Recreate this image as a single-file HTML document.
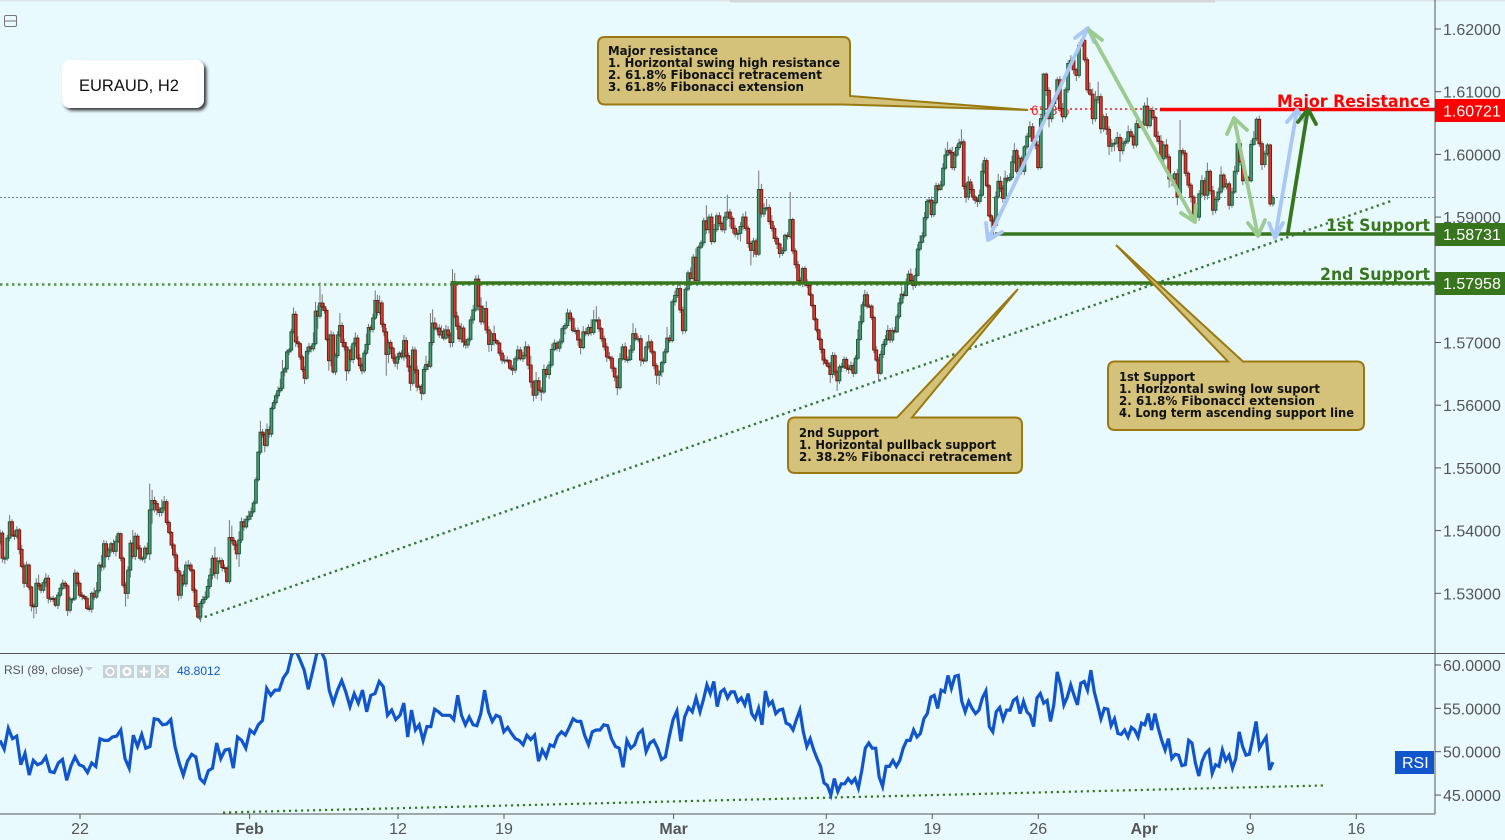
<!DOCTYPE html>
<html>
<head>
<meta charset="utf-8">
<title>EURAUD, H2</title>
<style>
html,body{margin:0;padding:0;background:#e9faff;width:1505px;height:840px;overflow:hidden}
svg{display:block;position:absolute;left:0;top:0}
text{font-family:"Liberation Sans",sans-serif}
.axis{font-size:16px;fill:#555}
.note{font-family:"DejaVu Sans",sans-serif;font-size:12.5px;font-weight:bold;fill:#111}
.lvl{font-family:"DejaVu Sans",sans-serif;font-size:17px;font-weight:bold}
.arrow{fill:none;stroke-linecap:round;stroke-linejoin:round}
.call{fill:#d4c27b;stroke:#9a7a10;stroke-width:2}
</style>
</head>
<body>
<svg id="chart" width="1505" height="840" viewBox="0 0 1505 840" xmlns="http://www.w3.org/2000/svg">
<defs>
<clipPath id="rsiClip"><rect x="0" y="654" width="1435" height="160"/></clipPath>
<clipPath id="priceClip"><rect x="0" y="2" width="1435" height="651"/></clipPath>
<filter id="shadow" x="-10%" y="-10%" width="125%" height="130%"><feDropShadow dx="2.5" dy="2.5" stdDeviation="1.5" flood-color="#222" flood-opacity="0.9"/></filter>
</defs>
<rect x="0" y="0" width="1505" height="840" fill="#e9faff"/>
<rect x="0" y="0" width="1505" height="1.5" fill="#dde3e6"/>
<rect x="730" y="0" width="485" height="2.5" fill="#d4d8da"/>

<line x1="0" y1="197.5" x2="1435" y2="197.5" stroke="#5f8f80" stroke-width="1" stroke-dasharray="2,2"/>
<line x1="0" y1="284.5" x2="1435" y2="284.5" stroke="#4f9440" stroke-width="2.4" stroke-dasharray="2.4,3.6"/>
<line x1="199" y1="619" x2="1391" y2="201" stroke="#3a7a33" stroke-width="2.4" stroke-dasharray="2.4,3.6"/>
<line x1="1030" y1="109" x2="1160" y2="109" stroke="#ff3030" stroke-width="1.8" stroke-dasharray="2,3"/>
<text x="1031" y="115" font-size="13.5" fill="#ff2020">61.8%</text>

<g id="candles" clip-path="url(#priceClip)"></g>

<line x1="1160" y1="109.5" x2="1435" y2="109.5" stroke="#ff0000" stroke-width="3.4"/>
<line x1="995" y1="234" x2="1435" y2="234" stroke="#38761d" stroke-width="3.4"/>
<line x1="452" y1="283" x2="1435" y2="283" stroke="#38761d" stroke-width="3.4"/>

<g class="arrow" stroke="#a9c8f5" stroke-width="3.8">
<path d="M988,240 L1088,28 M1075,38 L1088,28 L1094,42 M986,223 L988,240 L1002,232"/>
</g>
<g class="arrow" stroke="#9ccb8f" stroke-width="3.8">
<path d="M1089,30 L1195,222 M1181,213 L1195,222 L1196,205 M1089,30 L1102,40"/>
</g>
<g class="arrow" stroke="#9ccb8f" stroke-width="3.8">
<path d="M1234,118 L1258,236 M1227,134 L1234,118 L1247,130 M1248,223 L1258,236 L1265,220"/>
</g>
<g class="arrow" stroke="#a9c8f5" stroke-width="3.8">
<path d="M1275,238 L1297,110 M1269,223 L1275,238 L1283,223 M1287,122 L1297,110 L1306,123"/>
</g>
<g class="arrow" stroke="#38761d" stroke-width="3.8">
<path d="M1288,232 L1308,109 M1298,122 L1308,109 L1316,124"/>
</g>

<text class="lvl" x="1277" y="107" fill="#ff0000" textLength="153" lengthAdjust="spacingAndGlyphs">Major Resistance</text>
<text class="lvl" x="1326" y="231" fill="#38761d" textLength="104" lengthAdjust="spacingAndGlyphs">1st Support</text>
<text class="lvl" x="1320" y="280" fill="#38761d" textLength="110" lengthAdjust="spacingAndGlyphs">2nd Support</text>

<g>
<path class="call" d="M605,37 H843 Q850,37 850,44 V96 L1028,110 L843,104.5 H605 Q598,104.5 598,97 V44 Q598,37 605,37 Z"/>
<text class="note" x="608" y="55" textLength="110" lengthAdjust="spacingAndGlyphs">Major resistance</text>
<text class="note" x="608" y="67" textLength="232" lengthAdjust="spacingAndGlyphs">1. Horizontal swing high resistance</text>
<text class="note" x="608" y="79" textLength="214" lengthAdjust="spacingAndGlyphs">2. 61.8% Fibonacci retracement</text>
<text class="note" x="608" y="91" textLength="196" lengthAdjust="spacingAndGlyphs">3. 61.8% Fibonacci extension</text>
</g>
<g>
<path class="call" d="M795,417.5 H897 L1018,289 L912,417.5 H1015 Q1022,417.5 1022,425 V466 Q1022,473 1015,473 H795 Q788,473 788,466 V425 Q788,417.5 795,417.5 Z"/>
<text class="note" x="799" y="437" textLength="80" lengthAdjust="spacingAndGlyphs">2nd Support</text>
<text class="note" x="799" y="449" textLength="197" lengthAdjust="spacingAndGlyphs">1. Horizontal pullback support</text>
<text class="note" x="799" y="461" textLength="213" lengthAdjust="spacingAndGlyphs">2. 38.2% Fibonacci retracement</text>
</g>
<g>
<path class="call" d="M1115,361.5 H1228 L1116,245 L1243,361.5 H1357 Q1364,361.5 1364,369 V423 Q1364,430 1357,430 H1115 Q1108,430 1108,423 V369 Q1108,361.5 1115,361.5 Z"/>
<text class="note" x="1119" y="381" textLength="76" lengthAdjust="spacingAndGlyphs">1st Support</text>
<text class="note" x="1119" y="393" textLength="201" lengthAdjust="spacingAndGlyphs">1. Horizontal swing low suport</text>
<text class="note" x="1119" y="405" textLength="196" lengthAdjust="spacingAndGlyphs">2. 61.8% Fibonacci extension</text>
<text class="note" x="1119" y="417" textLength="235" lengthAdjust="spacingAndGlyphs">4. Long term ascending support line</text>
</g>

<g>
<rect x="62" y="60" width="142" height="48" rx="8" fill="#fff" filter="url(#shadow)"/>
<text x="79" y="91" font-size="16.5" fill="#111">EURAUD, H2</text>
</g>
<g>
<rect x="4.5" y="15.5" width="12" height="11" rx="1.5" fill="none" stroke="#777" stroke-width="1"/>
<line x1="5" y1="21" x2="16" y2="21" stroke="#777"/>
</g>

<line x1="0" y1="653.5" x2="1505" y2="653.5" stroke="#555" stroke-width="1"/>
<line x1="0" y1="814" x2="1435" y2="814" stroke="#555" stroke-width="1"/>
<line x1="1435" y1="0" x2="1435" y2="814" stroke="#555" stroke-width="1"/>

<line x1="223" y1="812.5" x2="1323" y2="785.5" stroke="#38761d" stroke-width="2.2" stroke-dasharray="2.2,3.8"/>
<g id="rsiPane" clip-path="url(#rsiClip)"></g>

<g id="axes"></g>

<g>
<rect x="1435" y="99" width="70" height="23" fill="#ff0000"/>
<text x="1443" y="116.5" font-size="16" fill="#fff">1.60721</text>
</g>
<g>
<rect x="1435" y="223" width="70" height="23" fill="#38761d"/>
<text x="1443" y="240" font-size="16" fill="#fff">1.58731</text>
</g>
<g>
<rect x="1435" y="272" width="70" height="23" fill="#38761d"/>
<text x="1443" y="289" font-size="16" fill="#fff">1.57958</text>
</g>
<g>
<rect x="1395" y="751" width="39" height="23" fill="#1155cc"/>
<text x="1402" y="768" font-size="16" fill="#fff">RSI</text>
</g>

<text x="4" y="674" font-size="12" fill="#555">RSI (89, close)</text>
<path d="M85,667 H93 L89,671 Z" fill="#c4ccd0"/>
<g><rect x="103" y="665" width="14" height="13" fill="#c9d2d6"/><circle cx="110" cy="671.5" r="3.8" fill="none" stroke="#fff" stroke-width="1.6"/></g>
<g><rect x="120" y="665" width="14" height="13" fill="#c9d2d6"/><circle cx="127" cy="671.5" r="3.4" fill="none" stroke="#fff" stroke-width="2.4"/></g>
<g><rect x="137" y="665" width="14" height="13" fill="#c9d2d6"/><path d="M144,667 V676 M139.5,671.5 H148.5" stroke="#fff" stroke-width="2"/></g>
<g><rect x="155" y="665" width="14" height="13" fill="#c9d2d6"/><path d="M158,667.5 L166,675.5 M166,667.5 L158,675.5" stroke="#fff" stroke-width="1.8"/></g>
<text x="177" y="675" font-size="12" fill="#1155cc">48.8012</text>
</svg>

<script>
// ---- price data (H2 closes, grouped by stretch of the chart)
const closesJan=[1.5396,1.5356,1.5356,1.5388,1.5414,1.5393,1.5391,1.5401,1.5370,1.5343,1.5316,1.5345,1.5310,1.5280,1.5279,1.5316,1.5312,1.5305,1.5317,1.5324,1.5292,1.5292,1.5291,1.5281,1.5297,1.5308,1.5316,1.5312,1.5273,1.5291,1.5291,1.5332,1.5316,1.5297,1.5295,1.5292,1.5276,1.5275,1.5300,1.5294,1.5304,1.5345,1.5342,1.5379,1.5359,1.5369,1.5379,1.5367,1.5383,1.5395,1.5356,1.5313,1.5300,1.5337,1.5380,1.5359,1.5391,1.5372,1.5356,1.5356,1.5372,1.5363,1.5433,1.5448,1.5443,1.5433,1.5429,1.5436,1.5446,1.5413,1.5397,1.5377,1.5361,1.5336,1.5297,1.5329,1.5315,1.5345,1.5345,1.5337,1.5305,1.5279,1.5262,1.5284,1.5290,1.5294,1.5311,1.5329,1.5356,1.5332,1.5351,1.5352,1.5341,1.5340,1.5319,1.5389,1.5384,1.5377,1.5363,1.5385,1.5414,1.5406,1.5418,1.5423,1.5430,1.5444,1.5481];
const closesFeb=[1.5525,1.5557,1.5553,1.5536,1.5561,1.5554,1.5595,1.5604,1.5615,1.5623,1.5627,1.5653,1.5658,1.5685,1.5688,1.5717,1.5745,1.5701,1.5698,1.5677,1.5657,1.5643,1.5686,1.5693,1.5690,1.5698,1.5750,1.5742,1.5763,1.5757,1.5751,1.5705,1.5671,1.5712,1.5653,1.5679,1.5712,1.5727,1.5700,1.5693,1.5655,1.5688,1.5673,1.5698,1.5707,1.5675,1.5663,1.5655,1.5683,1.5697,1.5724,1.5721,1.5739,1.5767,1.5748,1.5763,1.5729,1.5717,1.5681,1.5700,1.5691,1.5675,1.5667,1.5677,1.5683,1.5677,1.5703,1.5679,1.5661,1.5635,1.5688,1.5656,1.5629,1.5630,1.5619,1.5657,1.5665,1.5662,1.5700,1.5731,1.5723,1.5723,1.5712,1.5718,1.5707,1.5720,1.5712,1.5700,1.5797,1.5742,1.5726,1.5706,1.5723,1.5701,1.5696,1.5705];
const closesLateFeb=[1.5736,1.5752,1.5801,1.5758,1.5733,1.5754,1.5720,1.5697,1.5714,1.5703,1.5699,1.5683,1.5672,1.5672,1.5671,1.5659,1.5656,1.5674,1.5688,1.5674,1.5679,1.5693,1.5664,1.5637,1.5616,1.5639,1.5624,1.5621,1.5657,1.5649,1.5664,1.5689,1.5699,1.5691,1.5701,1.5722,1.5727,1.5747,1.5738,1.5719,1.5719,1.5704,1.5692,1.5717,1.5714,1.5724,1.5716,1.5736,1.5736,1.5722,1.5706,1.5693,1.5677,1.5675,1.5659,1.5645,1.5628,1.5674,1.5693,1.5673,1.5673,1.5688,1.5714,1.5706,1.5706,1.5672,1.5671,1.5693,1.5701,1.5685,1.5663,1.5648,1.5653,1.5668,1.5685,1.5707,1.5703,1.5765,1.5775,1.5786,1.5752,1.5719,1.5785,1.5811,1.5802,1.5836,1.5799,1.5852,1.5859,1.5894,1.5880,1.5900,1.5861,1.5880,1.5902,1.5890,1.5880,1.5900,1.5908,1.5898,1.5882,1.5873,1.5874,1.5885,1.5900,1.5882,1.5858,1.5847,1.5862,1.5841,1.5944,1.5905,1.5914,1.5915,1.5893,1.5882,1.5866,1.5857,1.5842,1.5847,1.5871,1.5869,1.5896,1.5846,1.5824,1.5799];
const closesMar=[1.5794,1.5818,1.5796,1.5791,1.5776,1.5759,1.5737,1.5720,1.5705,1.5689,1.5672,1.5667,1.5662,1.5649,1.5679,1.5653,1.5639,1.5661,1.5662,1.5673,1.5659,1.5657,1.5663,1.5651,1.5675,1.5705,1.5733,1.5760,1.5776,1.5758,1.5758,1.5740,1.5688,1.5672,1.5651,1.5681,1.5697,1.5705,1.5719,1.5704,1.5719,1.5717,1.5741,1.5763,1.5777,1.5775,1.5794,1.5809,1.5799,1.5791,1.5807,1.5849,1.5860,1.5870,1.5899,1.5925,1.5927,1.5904,1.5923,1.5950,1.5944,1.5951,1.5978,1.5999,1.6006,1.6003,1.5979,1.5999,1.6011,1.6018,1.6020,1.5949,1.5932,1.5956,1.5944,1.5932,1.5927,1.5925,1.5935,1.5973,1.5990,1.5950,1.5902,1.5894,1.5887,1.5932,1.5957,1.5946,1.5930,1.5962,1.5959,1.5963,1.5988,1.6006,1.5973,1.5994];
const closesApr=[1.5973,1.6012,1.6029,1.6044,1.6021,1.6015,1.5979,1.6057,1.6128,1.6102,1.6057,1.6081,1.6089,1.6119,1.6073,1.6060,1.6103,1.6145,1.6150,1.6135,1.6126,1.6174,1.6182,1.6151,1.6103,1.6096,1.6057,1.6087,1.6092,1.6041,1.6060,1.6040,1.6013,1.6017,1.6018,1.6027,1.6006,1.6018,1.6021,1.6036,1.6029,1.6015,1.6049,1.6043,1.6048,1.6077,1.6046,1.6070,1.6059,1.6029,1.6021,1.5993,1.6015,1.5996,1.5961,1.5961,1.5969,1.5932,1.6006,1.6002,1.5970,1.5951,1.5932,1.5905,1.5900,1.5937,1.5958,1.5935,1.5973,1.5942,1.5911,1.5928,1.5940,1.5967,1.5948,1.5953,1.5919,1.5940,1.5973,1.6017,1.5988,1.5958,1.5963,1.5958,1.6016,1.6025,1.6056,1.6017,1.5984,1.6001,1.6015,1.5921,1.5931];

// wick lengths above / below the body, in 0.0001 price units
const wickUpJan=[6,4,3,5,11,4,8,6,3,7,5,6,3,2,4,8,14,3,5,8,5,3,4,3,5,7,6,4,3,4,2,6,3,4,5,3,4,5,3,9,14,5,16,6,5,4,3,7,9,3,2,3,5,6,5,21,6,4,5,3,4,9,42,17,6,4,5,14,9,4,3,2,3,4,5,6,7,6,8,4,2,3,5,4,6,9,12,11,5,18,7,6,4,5,3,28,19,5,6,14,7,5,6,9,7,4,4];
const wickDnJan=[5,7,9,4,5,3,6,4,8,3,7,6,5,9,19,12,6,5,4,7,8,6,5,3,6,4,3,5,9,4,7,3,5,4,6,3,3,4,6,5,3,4,7,5,3,6,5,4,8,3,5,4,21,9,12,4,6,3,4,5,8,3,10,22,14,8,7,6,5,4,3,6,5,4,9,6,4,5,7,3,4,6,3,8,7,5,3,4,7,8,10,5,6,7,3,4,5,8,9,21,5,6,3,4,6,3,2];
const wickUpFeb=[2,18,5,4,10,6,3,4,4,7,15,19,3,4,3,5,11,5,9,3,4,5,7,6,3,18,15,9,33,14,6,4,9,7,5,4,6,20,5,6,8,4,7,3,9,5,6,4,5,17,6,4,7,16,9,12,4,3,6,5,4,3,7,6,3,5,9,6,5,3,6,5,7,3,4,5,14,6,47,22,9,7,6,9,5,8,6,4,20,14,7,6,8,4,5,3];
const wickDnFeb=[3,4,5,11,3,6,5,3,4,5,3,4,7,6,5,4,3,8,6,5,4,9,3,5,6,4,3,20,4,6,5,3,16,9,3,5,4,3,7,6,16,5,4,6,5,3,5,6,4,3,9,4,5,3,6,4,5,7,34,14,9,5,6,10,5,4,6,5,8,12,4,6,7,5,11,3,4,6,3,5,4,7,5,6,4,3,5,8,7,4,6,5,7,9,6,5];
const wickUpLate=[6,8,6,7,14,5,12,6,4,13,3,3,5,8,6,3,5,4,7,5,6,9,4,15,3,14,6,5,8,5,6,9,6,4,5,4,4,7,5,4,5,5,3,9,6,5,13,16,22,5,3,5,6,8,4,3,3,9,5,7,5,8,17,9,5,6,4,8,11,4,3,4,3,3,5,18,5,4,8,12,6,5,3,4,9,5,14,3,4,5,25,5,6,9,4,6,3,8,28,5,4,5,6,7,6,9,4,4,5,4,30,9,8,14,5,10,5,4,3,5,3,5,44,3,4,6];
const wickDnLate=[4,6,3,7,5,4,6,12,11,8,3,5,6,6,4,3,8,5,4,3,5,5,7,9,10,6,8,14,3,5,7,4,3,5,6,4,9,4,5,3,6,9,11,3,4,4,5,4,4,5,5,6,8,4,6,7,12,3,3,5,6,3,5,4,6,10,5,3,4,4,6,14,16,8,3,3,4,3,6,4,5,6,4,3,8,6,5,4,3,5,7,6,5,3,4,5,4,6,5,14,8,5,9,13,6,4,7,24,11,5,3,6,5,4,5,5,6,8,7,4,3,5,4,5,6,5];
const wickUpMar=[5,3,4,5,6,3,2,3,2,3,2,4,5,7,6,5,3,4,6,5,4,6,7,5,5,16,10,5,8,5,4,3,3,6,5,6,5,7,9,4,5,6,4,8,12,5,8,6,9,7,12,8,11,6,9,4,5,6,4,5,4,7,8,11,14,4,9,6,5,7,20,4,5,9,5,8,3,4,9,13,6,4,3,3,5,9,12,8,5,12,5,7,10,12,3,5];
const wickDnMar=[4,6,7,4,2,3,3,4,3,6,8,4,3,14,6,7,16,5,8,4,5,7,3,6,2,3,2,4,3,4,3,4,5,3,13,3,6,4,3,5,4,3,2,4,3,5,2,3,4,7,4,2,3,2,3,4,3,5,4,3,3,2,3,3,2,3,4,5,3,4,3,5,9,5,7,5,6,9,4,3,4,3,3,11,22,4,3,6,7,5,4,3,4,3,4,5];
const wickUpApr=[4,3,5,9,6,4,7,8,2,3,5,6,5,4,6,9,4,5,8,7,3,5,2,3,4,12,9,14,24,5,4,6,5,8,7,9,6,8,5,10,5,4,6,3,5,6,14,5,6,3,8,10,6,9,5,7,4,8,49,4,5,3,4,3,2,6,9,5,14,3,8,5,7,14,3,8,4,7,9,4,5,3,4,3,7,12,3,6,4,5,3,2,4];
const wickDnApr=[5,6,4,3,5,7,4,3,5,9,14,6,4,3,6,9,4,5,5,7,9,4,3,4,5,3,9,5,6,8,5,9,14,9,12,7,18,6,5,4,3,6,4,2,3,3,5,3,4,3,5,5,6,4,14,12,6,13,3,4,5,5,9,3,4,6,5,8,7,6,8,5,4,3,5,4,7,4,3,5,6,7,5,4,3,3,4,5,9,5,4,4,4];

// ---- RSI values, grouped by stretch of the chart
const rsiJan=[51.3,50.3,52.7,51.5,51.8,48.5,49.8,47.3,49.0,48.5,48.7,49.4,47.7,47.6,48.7,49.1,46.7,48.3,49.4,48.5,48.3,47.6,48.7,48.3,51.5,51.3,51.3,51.7,51.8,52.5,49.2,48.1,51.9,50.6,52.0,50.4,50.6,53.8,53.7,53.1,53.2,53.7,50.6,48.7,47.3,48.9,49.7,49.4,46.9,46.4,47.8,48.1,51.0,49.2,50.2,50.3,48.1,51.7,51.3,50.4,52.5,52.1,53.1,53.6,57.3,56.5,57.1,57.1,58.5,59.2,61.2,61.7,60.6,59.4,57.2,59.2,61.3,61.7,60.6,57.1,55.6,57.1,58.2,56.9,55.2,56.7,55.6,57.1,54.6,56.5,56.7,58.1,57.5,54.2,54.8,53.7,54.2];
const rsiFeb=[55.6,51.7,54.8,52.5,53.1,51.3,52.9,52.9,54.9,54.6,54.2,54.2,54.2,53.7,56.5,54.2,53.1,54.0,53.1,53.0,54.4,57.1,54.6,53.5,54.2,54.0,52.3,52.8,52.1,51.5,51.3,50.8,51.9,51.4,51.9,48.9,50.2,49.4,50.8,50.6,51.8,52.3,51.9,52.8,53.8,53.5,53.5,51.9,50.8,52.3,52.5,52.5,53.1,53.0,51.5,50.6,50.4,48.2,51.3,50.4,50.8,52.1,52.5,50.0,51.0,51.3,50.4,49.1,49.4,51.7,53.7,54.7,51.2,54.0,55.1,54.6,56.2,54.6];
const rsiMar=[56.0,57.7,56.7,58.1,55.2,56.9,57.2,56.2,56.9,56.9,55.8,56.2,55.4,56.7,54.4,53.8,55.0,53.1,57.0,55.4,55.8,54.4,54.8,54.9,53.3,53.1,52.5,53.7,54.8,52.3,50.6,51.5,50.2,49.2,48.3,46.4,46.1,45.0,46.9,45.4,46.3,46.3,46.9,46.4,46.9,45.8,47.9,50.4,51.0,50.4,50.4,47.1,46.0,48.3,48.3,49.0,48.3,49.0,50.4,51.3,51.3,52.5,51.7,52.1,53.8,54.4,56.3,56.5,55.0,57.1,56.9,58.8,57.3,58.7,58.8,55.8,54.6,55.8,55.0,54.4,54.8,56.2,57.0,52.9,52.3,54.6,55.1,53.7,54.8,54.8];
const rsiApr=[55.9,56.2,54.4,55.8,54.6,54.2,52.9,56.2,56.7,55.6,55.9,53.5,55.4,59.2,57.7,55.4,56.3,57.7,56.5,55.4,57.9,58.1,57.1,59.4,56.9,55.4,53.8,55.0,54.9,53.0,53.8,52.1,52.0,52.5,51.7,52.8,52.5,51.7,53.3,53.1,54.4,52.5,54.4,52.7,51.3,50.2,51.5,49.2,49.7,49.6,48.4,48.5,51.3,51.0,48.7,47.2,48.9,49.8,50.2,47.5,48.5,48.3,50.2,49.0,49.6,48.1,49.2,52.3,50.6,49.6,49.7,51.5,53.5,50.4,51.1,51.7,47.9,48.8];

// ---- axis tick data
const priceTicks=[1.62,1.61,1.60,1.59,1.57,1.56,1.55,1.54,1.53];
const rsiTicks=[60,55,50,45];
const dateLabels=['22','Feb','12','19','Mar','12','19','26','Apr','9','16'];
const dateTradingDays=[0,8,15,20,28,35.2,40.2,45.2,50.2,55.2,60.2];
const boldDateLabels=['Feb','Mar','Apr'];
const firstOpen=1.5383;

// stretches of the time axis, in trading days from 22 Jan
const priceStretches=[[closesJan,wickUpJan,wickDnJan,-3.774,8.30],[closesFeb,wickUpFeb,wickDnFeb,8.30,18.30],[closesLateFeb,wickUpLate,wickDnLate,18.30,33.87],[closesMar,wickUpMar,wickDnMar,33.87,44.29],[closesApr,wickUpApr,wickDnApr,44.29,56.27]];
const rsiStretches=[[rsiJan,-3.774,15.094],[rsiFeb,15.094,29.245],[rsiMar,29.245,43.868],[rsiApr,43.868,56.27]];

// ---- axis functions
function xOfDay(d){return 80+21.2*d;}
function yPrice(p){return 29+(1.62-p)*6270;}
function yRsi(r){return 665+(60-r)*8.67;}

const NS='http://www.w3.org/2000/svg';
function mk(tag,attrs,parent){
  const el=document.createElementNS(NS,tag);
  for(const k in attrs){el.setAttribute(k,attrs[k]);}
  parent.appendChild(el);
  return el;
}

// candles
const candlesG=document.getElementById('candles');
let prevClose=firstOpen;
priceStretches.forEach(function(s){
  const closes=s[0],ups=s[1],dns=s[2],d0=s[3],d1=s[4];
  closes.forEach(function(c,k){
    const d=d0+(k+(d0<0?0:1))*(d1-d0)/(closes.length-(d0<0?1:0));
    const x=xOfDay(d);
    const o=prevClose;
    const up=ups[k]===undefined?4:ups[k];
    const dn=dns[k]===undefined?4:dns[k];
    const hi=Math.max(o,c)+up*0.0001;
    const lo=Math.min(o,c)-dn*0.0001;
    const wick=mk('line',{x1:x,x2:x,y1:yPrice(hi),y2:yPrice(lo),stroke:'#757575','stroke-width':1},candlesG);
    
    
    const rising=c>=o;
    const top=yPrice(Math.max(o,c));
    const h=Math.max(1,Math.abs(yPrice(o)-yPrice(c)));
    const body=mk('rect',{x:x-1.35,y:top,width:2.7,height:h,fill:rising?'#4a9a72':'#e2392a',stroke:rising?'#1f5a3c':'#701c14','stroke-width':1},candlesG);
    
    
    prevClose=c;
  });
});

// RSI line
const rsiPts=[];
rsiStretches.forEach(function(s,n){
  const vals=s[0],d0=s[1],d1=s[2];
  vals.forEach(function(v,k){
    const d=d0+(k+(n===0?0:1))*(d1-d0)/(vals.length-(n===0?1:0));
    rsiPts.push(xOfDay(d).toFixed(1)+','+yRsi(v).toFixed(1));
  });
});
const rsiLine=mk('polyline',{points:rsiPts.join(' '),fill:'none',stroke:'#1155cc','stroke-width':3.2,'stroke-linejoin':'miter','stroke-miterlimit':4},document.getElementById('rsiPane'));



// axes
const axesG=document.getElementById('axes');
priceTicks.forEach(function(p){
  const y=yPrice(p);
  const t=mk('line',{x1:1435,x2:1441,y1:y,y2:y,stroke:'#555'},axesG);
  
  
  const l=mk('text',{x:1443,y:y+6,class:'axis'},axesG);
  l.textContent=p.toFixed(5);
  
  
});
rsiTicks.forEach(function(r){
  const y=yRsi(r);
  const t=mk('line',{x1:1435,x2:1441,y1:y,y2:y,stroke:'#555'},axesG);
  
  
  const l=mk('text',{x:1443,y:y+6,class:'axis'},axesG);
  l.textContent=r.toFixed(4);
  
  
});
dateLabels.forEach(function(lab,i){
  const x=xOfDay(dateTradingDays[i]);
  const t=mk('line',{x1:x,x2:x,y1:814,y2:819,stroke:'#555'},axesG);
  
  
  const l=mk('text',{x:x,y:834,class:'axis','text-anchor':'middle','font-weight':boldDateLabels.indexOf(lab)>=0?'bold':'normal'},axesG);
  l.textContent=lab;
  
  
});
</script>
</body>
</html>
